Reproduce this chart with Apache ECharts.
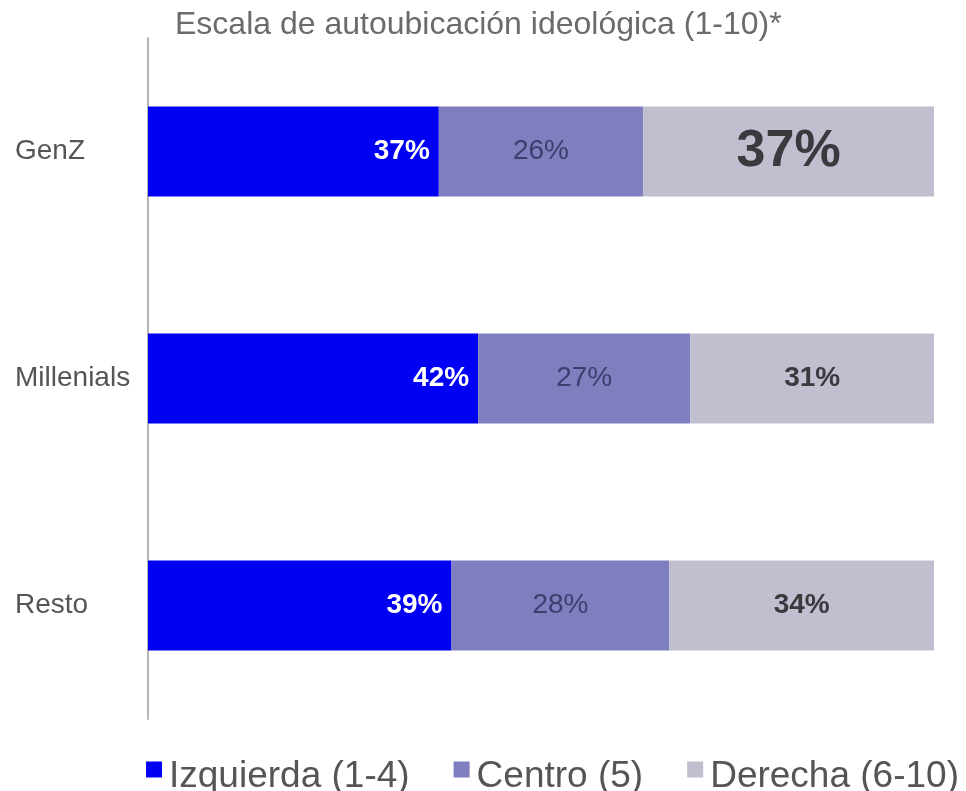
<!DOCTYPE html>
<html>
<head>
<meta charset="utf-8">
<title>Escala de autoubicación ideológica</title>
<script src="https://cdn.jsdelivr.net/npm/echarts@6/dist/echarts.min.js"></script>
<style>
  html, body { margin: 0; padding: 0; background: #fff; }
  #chart { width: 966px; height: 791px; }
</style>
</head>
<body>
<div id="chart"></div>
<script>
// datos
const categories = ["GenZ", "Millenials", "Resto"];
const seriesNames = ["Izquierda (1-4)", "Centro (5)", "Derecha (6-10)"];
const izquierda = [37, 42, 39];
const centro = [26, 27, 28];
const derecha = [37, 31, 34];

const colors = ["#0000F5", "#7F7FBF", "#BFBFCF"];
const raw = [izquierda, centro, derecha];

// cada barra ocupa el ancho completo (los porcentajes no siempre suman 100)
const totals = categories.map((c, i) => izquierda[i] + centro[i] + derecha[i]);
const share = (arr) => arr.map((v, i) => v / totals[i]);

const chart = echarts.init(document.getElementById("chart"));

const labelStyles = [
  { position: "insideRight", distance: 9, color: "#fff", fontWeight: "bold", fontSize: 28 },
  { position: "inside", color: "#3d3d6e", fontWeight: "normal", fontSize: 28 },
  { position: "inside", color: "#3a3a3e", fontWeight: "bold", fontSize: 28 },
];

const series = raw.map((arr, s) => ({
  name: seriesNames[s],
  type: "bar",
  stack: "total",
  barWidth: 90,
  itemStyle: { color: colors[s] },
  label: Object.assign(
    {
      show: true,
      fontFamily: "Liberation Sans, Arial, sans-serif",
      formatter: (p) => raw[s][p.dataIndex] + "%",
    },
    labelStyles[s]
  ),
  data: share(arr).map((v, i) => {
    // GenZ derecha va con etiqueta grande
    if (s === 2 && i === 0) {
      return { value: v, label: { fontSize: 52 } };
    }
    return v;
  }),
}));

const options = {
  animation: false,
  textStyle: { fontFamily: "Liberation Sans, Arial, sans-serif" },
  title: {
    text: "Escala de autoubicación ideológica (1-10)*",
    left: 170,
    top: 4,
    textStyle: { fontSize: 32, fontWeight: "normal", color: "#6b6b6b" },
  },
  grid: { left: 148, right: 32, top: 38, bottom: 72 },
  xAxis: {
    type: "value",
    min: 0,
    max: 1,
    show: false,
  },
  yAxis: {
    type: "category",
    data: categories,
    inverse: true,
    axisLine: { show: true, lineStyle: { color: "#b5b5b5", width: 2 } },
    axisTick: { show: false },
    splitLine: { show: false },
    axisLabel: {
      align: "left",
      margin: 133,
      fontSize: 28,
      color: "#555",
    },
  },
  legend: {
    left: 141,
    top: 753,
    itemWidth: 16,
    itemHeight: 30,
    itemGap: 44,
    // cuadrito arriba dentro de una caja más alta, así queda algo más alto que el texto
    icon: "path://M0,0h16v16h-16zM0,30h16",
    itemStyle: { borderWidth: 0 },
    textStyle: { fontSize: 37, color: "#555", padding: [0, 0, 0, 2] },
    data: seriesNames,
  },
  series: series,
};

chart.setOption(options);
</script>
</body>
</html>
